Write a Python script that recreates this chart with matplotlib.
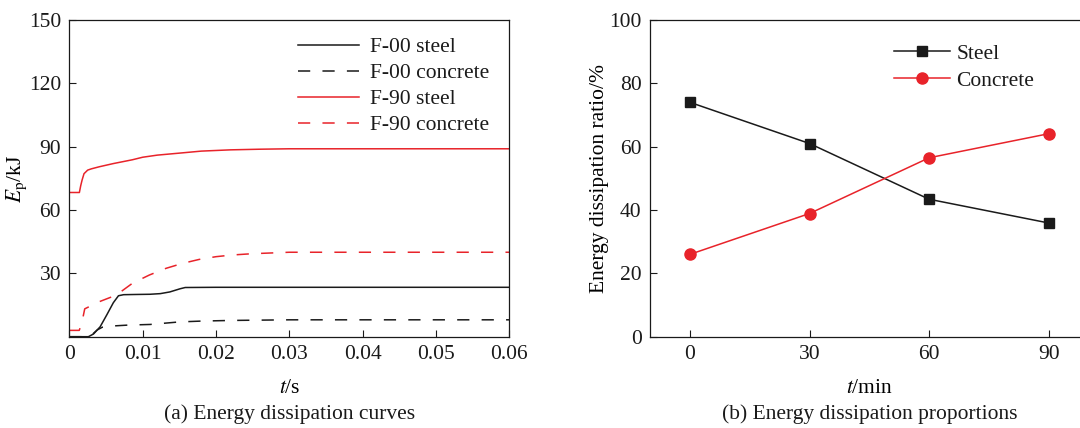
import matplotlib
matplotlib.use('Agg')
import matplotlib.pyplot as plt

plt.rcParams.update({
    'font.family': ['Liberation Serif', 'DejaVu Serif'],
    'mathtext.fontset': 'stix',
    'font.size': 15.5,
    'axes.linewidth': 0.9,
    'axes.edgecolor': '#1a1a1a',
    'xtick.direction': 'in',
    'ytick.direction': 'in',
    'xtick.major.size': 5,
    'ytick.major.size': 5,
    'xtick.color': '#1a1a1a',
    'ytick.color': '#1a1a1a',
    'text.color': '#1a1a1a',
})

RED = '#e8232a'
BLK = '#1a1a1a'

# (a) energy dissipation time histories, t in s, Ep in kJ
t_f00_steel = [0, 0.0026, 0.0033, 0.0042, 0.0051, 0.0060, 0.0067, 0.0074, 0.0090, 0.0110,
               0.0124, 0.0137, 0.0151, 0.0158, 0.020, 0.060]
e_f00_steel = [0, 0, 1.3, 4.7, 10.3, 16.1, 19.4, 19.9, 20.0, 20.1,
               20.4, 21.2, 22.7, 23.3, 23.4, 23.4]

t_f00_conc = [0, 0.0026, 0.0032, 0.0038, 0.0045, 0.0060, 0.0080, 0.0110, 0.0130, 0.0150,
              0.0180, 0.0220, 0.030, 0.060]
e_f00_conc = [0, 0, 1.3, 3.2, 4.5, 5.1, 5.5, 5.8, 6.4, 7.0,
              7.4, 7.7, 8.0, 8.0]

t_f90_steel = [0, 0.00137, 0.00155, 0.00174, 0.0020, 0.0025, 0.0030, 0.0041, 0.0060, 0.0086,
               0.0100, 0.0120, 0.0155, 0.0180, 0.0220, 0.0260, 0.030, 0.060]
e_f90_steel = [68.3, 68.3, 71.5, 74.2, 77.2, 78.9, 79.5, 80.5, 82.0, 83.8,
               85.0, 86.0, 87.1, 87.9, 88.5, 88.8, 89.0, 89.0]

t_f90_conc = [0, 0.00135, 0.0017, 0.0021, 0.0041, 0.0064, 0.0086, 0.0109, 0.0132, 0.0154,
              0.0177, 0.0200, 0.0222, 0.0249, 0.030, 0.060]
e_f90_conc = [3.0, 3.0, 6.5, 13.2, 16.6, 19.7, 25.3, 29.2, 32.4, 34.7,
              36.6, 37.9, 38.7, 39.3, 40.0, 40.0]

# (b) dissipation share vs fire exposure time
t_min = [0, 30, 60, 90]
steel_ratio = [74.0, 61.0, 43.4, 35.9]
concrete_ratio = [26.0, 38.9, 56.5, 64.1]

fig = plt.figure(figsize=(10.8, 4.28), dpi=100)
ax1 = fig.add_axes([0.0642, 0.2133, 0.4074, 0.74])
ax2 = fig.add_axes([0.6019, 0.2133, 0.4061, 0.74])

dash = (0, (8, 8))
ax1.plot(t_f00_steel, e_f00_steel, color=BLK, lw=1.1, label='F-00 steel')
ax1.plot(t_f00_conc, e_f00_conc, color=BLK, lw=1.1, ls=dash, label='F-00 concrete')
ax1.plot(t_f90_steel, e_f90_steel, color=RED, lw=1.1, label='F-90 steel')
ax1.plot(t_f90_conc, e_f90_conc, color=RED, lw=1.1, ls=dash, label='F-90 concrete')
ax1.set_xlim(0, 0.06)
ax1.set_ylim(0, 150)
ax1.set_xticks([0, 0.01, 0.02, 0.03, 0.04, 0.05, 0.06])
ax1.set_xticklabels(['0', '0.01', '0.02', '0.03', '0.04', '0.05', '0.06'])
ax1.set_yticks([30, 60, 90, 120, 150])
ax1.tick_params(pad=6)
ax1.set_xlabel(r'$t$/s', labelpad=11)
ax1.set_ylabel(r'$E_{\mathrm{p}}$/kJ', labelpad=0)
ax1.legend(loc='upper left', bbox_to_anchor=(0.52, 0.945), frameon=False,
           borderpad=0, borderaxespad=0, handlelength=2.84, handletextpad=0.5,
           labelspacing=0.27)

ax2.plot(t_min, steel_ratio, color=BLK, lw=1.1, marker='s', ms=7.5,
         mfc=BLK, mec=BLK, label='Steel')
ax2.plot(t_min, concrete_ratio, color=RED, lw=1.1, marker='o', ms=8,
         mfc=RED, mec=RED, label='Concrete')
ax2.set_xlim(-10, 100)
ax2.set_ylim(0, 100)
ax2.set_xticks([0, 30, 60, 90])
ax2.set_yticks([0, 20, 40, 60, 80, 100])
ax2.tick_params(pad=6)
ax2.set_xlabel(r'$t$/min', labelpad=11)
ax2.set_ylabel('Energy dissipation ratio/%', labelpad=0)
ax2.legend(loc='upper left', bbox_to_anchor=(0.556, 0.925), frameon=False,
           borderpad=0, borderaxespad=0, handlelength=2.6, handletextpad=0.3,
           labelspacing=0.32, numpoints=1)

for ax in (ax1, ax2):
    ax.tick_params(top=False, right=False)

fig.text(0.2679, 0.033, '(a) Energy dissipation curves', ha='center', va='center')
fig.text(0.8049, 0.033, '(b) Energy dissipation proportions', ha='center', va='center')

fig.savefig('out.png', dpi=100)
